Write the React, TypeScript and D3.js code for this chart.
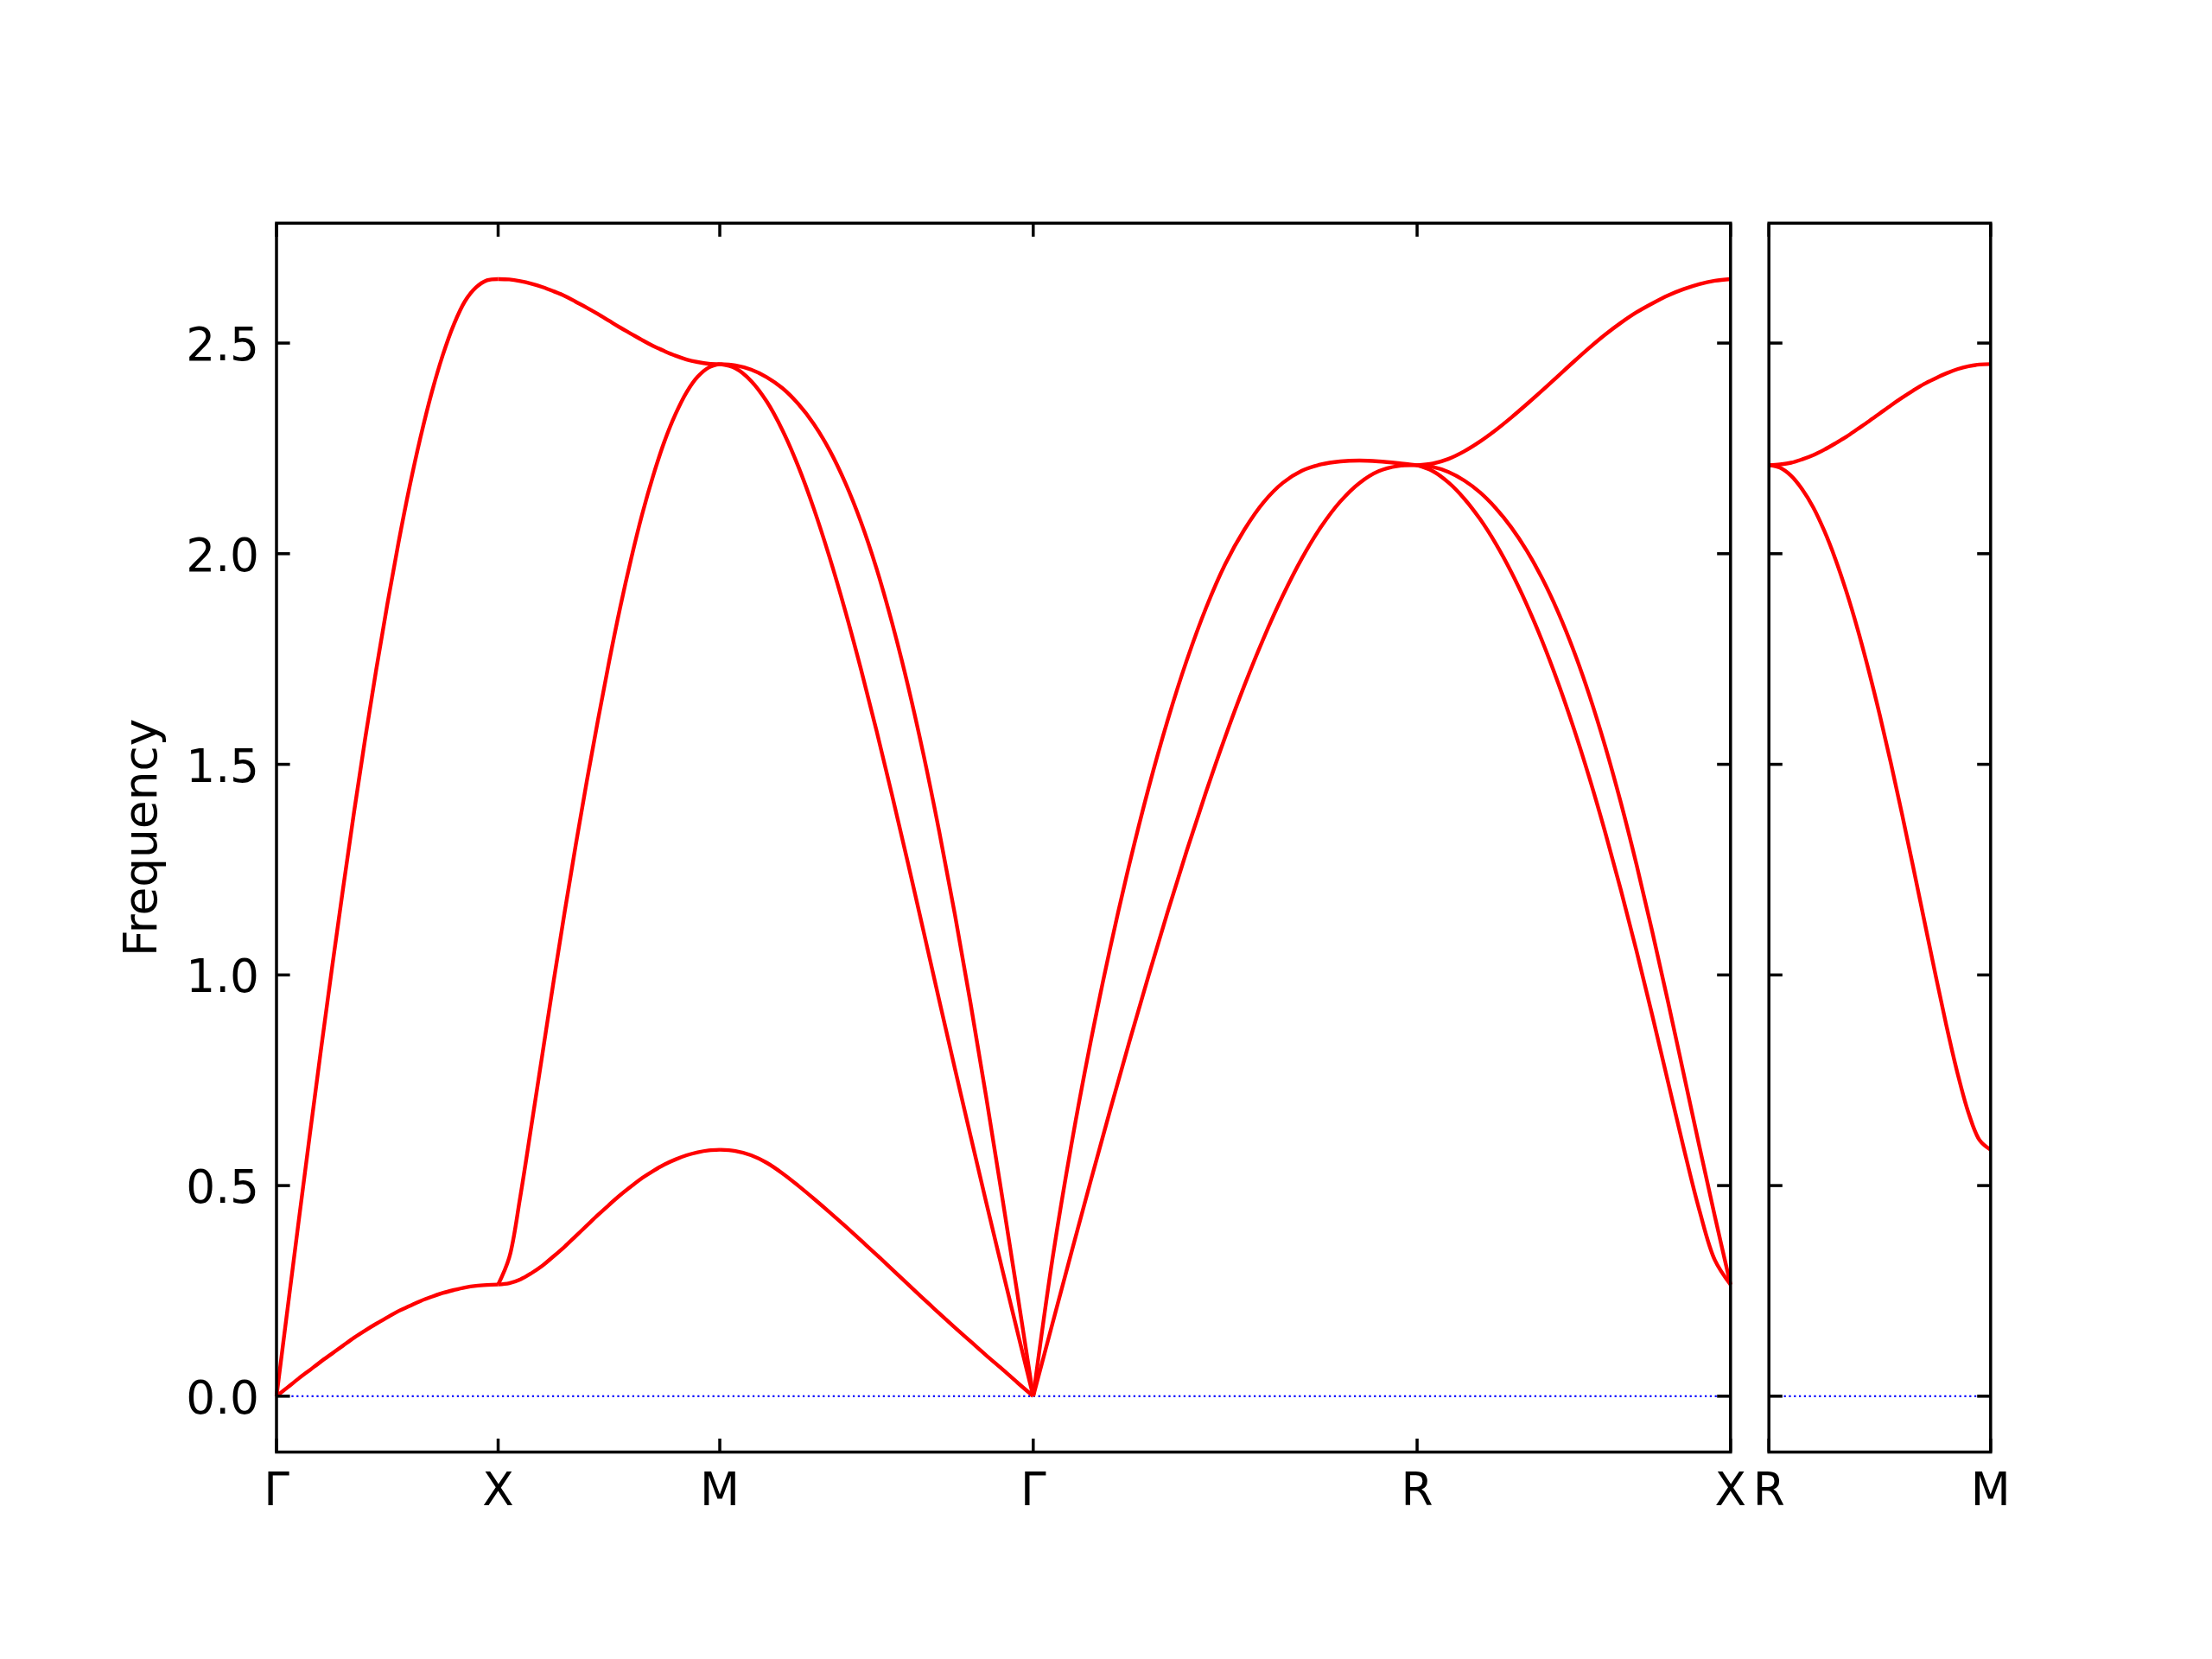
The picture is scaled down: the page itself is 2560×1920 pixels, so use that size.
import React from "react";
import * as d3 from "d3";

// ---- data ----
const PATH_LABELS = ["Γ", "X", "M", "Γ", "R", "X"];
const SEGMENT_LENGTHS = [0.5, 0.5, 0.7071, 0.866, 0.7071];
const PANEL2_LABELS = ["R", "M"];
const PANEL2_LENGTHS = [0.5];
const FRACTIONS = [0, 0.05, 0.1, 0.15, 0.2, 0.25, 0.3, 0.35, 0.4, 0.45, 0.5, 0.55, 0.6, 0.65, 0.7, 0.75, 0.8, 0.85, 0.9, 0.95, 1];
const Y_TICKS = [0, 0.5, 1.0, 1.5, 2.0, 2.5];

// Γ → X
const gX_LA = [0, 0.208, 0.415, 0.619, 0.82, 1.015, 1.204, 1.387, 1.561, 1.725, 1.88, 2.025, 2.158, 2.277, 2.382, 2.471, 2.544, 2.599, 2.632, 2.649, 2.652];
const gX_TA = [0, 0.021, 0.042, 0.062, 0.082, 0.101, 0.12, 0.139, 0.156, 0.172, 0.187, 0.202, 0.214, 0.226, 0.236, 0.245, 0.252, 0.258, 0.262, 0.264, 0.265];
// X → M
const xM_top = [2.652, 2.651, 2.647, 2.641, 2.633, 2.623, 2.612, 2.598, 2.584, 2.569, 2.553, 2.537, 2.522, 2.507, 2.493, 2.481, 2.47, 2.461, 2.455, 2.451, 2.45];
const xM_mid = [0.265, 0.329, 0.474, 0.642, 0.813, 0.984, 1.149, 1.308, 1.46, 1.604, 1.742, 1.871, 1.988, 2.094, 2.186, 2.266, 2.331, 2.383, 2.42, 2.442, 2.45];
const xM_low = [0.265, 0.268, 0.277, 0.292, 0.31, 0.332, 0.355, 0.38, 0.405, 0.43, 0.454, 0.477, 0.498, 0.518, 0.535, 0.55, 0.562, 0.572, 0.579, 0.5835, 0.585];
// M → Γ
const mG_outer = [2.45, 2.447, 2.437, 2.419, 2.393, 2.356, 2.308, 2.246, 2.169, 2.076, 1.965, 1.835, 1.688, 1.523, 1.341, 1.144, 0.933, 0.71, 0.478, 0.241, 0];
const mG_inner = [2.45, 2.44, 2.41, 2.361, 2.293, 2.208, 2.107, 1.992, 1.865, 1.727, 1.58, 1.426, 1.267, 1.104, 0.94, 0.778, 0.618, 0.46, 0.305, 0.152, 0];
const mG_low = [0.585, 0.582, 0.572, 0.554, 0.529, 0.5, 0.469, 0.437, 0.404, 0.37, 0.336, 0.301, 0.266, 0.231, 0.197, 0.163, 0.13, 0.097, 0.065, 0.032, 0];
// Γ → R
const gR_upper = [0, 0.325, 0.6, 0.843, 1.062, 1.261, 1.442, 1.604, 1.747, 1.871, 1.975, 2.057, 2.122, 2.168, 2.197, 2.212, 2.219, 2.221, 2.219, 2.215, 2.21];
const gR_lower = [0, 0.172, 0.343, 0.512, 0.678, 0.84, 0.997, 1.149, 1.295, 1.434, 1.565, 1.687, 1.799, 1.9, 1.989, 2.064, 2.124, 2.168, 2.196, 2.208, 2.21];
// R → X
const rX_top = [2.21, 2.214, 2.225, 2.243, 2.266, 2.293, 2.323, 2.355, 2.388, 2.422, 2.456, 2.489, 2.52, 2.548, 2.573, 2.594, 2.613, 2.628, 2.64, 2.648, 2.652];
const rX_mid = [2.21, 2.206, 2.194, 2.174, 2.146, 2.109, 2.063, 2.007, 1.94, 1.861, 1.769, 1.663, 1.543, 1.409, 1.262, 1.104, 0.938, 0.767, 0.595, 0.427, 0.265];
const rX_low = [2.21, 2.196, 2.169, 2.131, 2.083, 2.025, 1.957, 1.879, 1.791, 1.693, 1.585, 1.467, 1.339, 1.202, 1.057, 0.905, 0.748, 0.591, 0.443, 0.323, 0.265];
// R → M (second panel)
const rM_upper = [2.21, 2.212, 2.216, 2.224, 2.234, 2.247, 2.262, 2.278, 2.296, 2.314, 2.333, 2.352, 2.37, 2.387, 2.403, 2.416, 2.428, 2.438, 2.445, 2.449, 2.45];
const rM_lower = [2.21, 2.204, 2.185, 2.153, 2.11, 2.054, 1.987, 1.909, 1.821, 1.723, 1.617, 1.503, 1.383, 1.258, 1.131, 1.004, 0.881, 0.768, 0.673, 0.608, 0.585];

const PANEL1_BANDS = [
  [gX_LA, gX_TA],
  [xM_top, xM_mid, xM_low],
  [mG_outer, mG_inner, mG_low],
  [gR_upper, gR_lower],
  [rX_top, rX_mid, rX_low],
];
const PANEL2_BANDS = [[rM_upper, rM_lower]];

// ---- layout ----
const W = 2560;
const H = 1920;
const TOP = 258.3;
const BOTTOM = 1680.5;
const P1 = { left: 320, right: 2002.8 };
const P2 = { left: 2047.2, right: 2303.8 };
const FONT = "DejaVu Sans, sans-serif";
const FS = 53.3;
const TICK = 15.6;
const AXW = 3.5;

const allVals = [...PANEL1_BANDS.flat(2), ...PANEL2_BANDS.flat(2)];
const [vmin, vmax] = d3.extent(allVals) as [number, number];
const pad = (vmax - vmin) * 0.05;
const y = d3.scaleLinear().domain([vmin - pad, vmax + pad]).range([BOTTOM, TOP]);

function cumul(lengths: number[]) {
  const out = [0];
  lengths.forEach((l) => out.push(out[out.length - 1] + l));
  return out;
}

function Panel({ lengths, bands, labels, range, showY }: any) {
  const starts = cumul(lengths);
  const x = d3.scaleLinear().domain([0, starts[starts.length - 1]]).range(range);
  const line = d3
    .line<[number, number]>()
    .x((d) => x(d[0]))
    .y((d) => y(d[1]))
    .curve(d3.curveCatmullRom.alpha(0.5));
  const paths: string[] = [];
  bands.forEach((seg: number[][], i: number) => {
    seg.forEach((vals) => {
      const pts = vals.map((v, j) => [starts[i] + FRACTIONS[j] * lengths[i], v] as [number, number]);
      paths.push(line(pts) as string);
    });
  });
  const [x0, x1] = range;
  return (
    <g>
      <line x1={x0} x2={x1} y1={y(0)} y2={y(0)} stroke="#0000ff" strokeWidth={2.2} strokeDasharray="2.2 3.6" />
      {paths.map((d, i) => (
        <path key={i} d={d} fill="none" stroke="#ff0000" strokeWidth={4.4} strokeLinejoin="round" />
      ))}
      {Y_TICKS.map((t) => (
        <g key={t}>
          <line x1={x0} x2={x0 + TICK} y1={y(t)} y2={y(t)} stroke="#000" strokeWidth={AXW} />
          <line x1={x1} x2={x1 - TICK} y1={y(t)} y2={y(t)} stroke="#000" strokeWidth={AXW} />
          {showY && (
            <text x={x0 - 20} y={y(t) + 20} textAnchor="end" fontFamily={FONT} fontSize={FS} fill="#000">
              {d3.format(".1f")(t)}
            </text>
          )}
        </g>
      ))}
      {starts.map((s, i) => (
        <g key={i}>
          <line x1={x(s)} x2={x(s)} y1={BOTTOM} y2={BOTTOM - TICK} stroke="#000" strokeWidth={AXW} />
          <line x1={x(s)} x2={x(s)} y1={TOP} y2={TOP + TICK} stroke="#000" strokeWidth={AXW} />
          <text x={x(s)} y={BOTTOM + 61} textAnchor="middle" fontFamily={FONT} fontSize={FS} fill="#000">
            {labels[i]}
          </text>
        </g>
      ))}
      <rect x={x0} y={TOP} width={x1 - x0} height={BOTTOM - TOP} fill="none" stroke="#000" strokeWidth={AXW} />
    </g>
  );
}

export default function App() {
  return (
    <svg
      width={W}
      height={H}
      viewBox={`0 0 ${W} ${H}`}
      style={{ position: "absolute", left: 0, top: 0, background: "#fff" }}
    >
      <rect x={0} y={0} width={W} height={H} fill="#fff" />
      <Panel lengths={SEGMENT_LENGTHS} bands={PANEL1_BANDS} labels={PATH_LABELS} range={[P1.left, P1.right]} showY />
      <Panel lengths={PANEL2_LENGTHS} bands={PANEL2_BANDS} labels={PANEL2_LABELS} range={[P2.left, P2.right]} showY={false} />
      <text
        transform={`translate(180.6, ${(TOP + BOTTOM) / 2}) rotate(-90)`}
        textAnchor="middle"
        fontFamily={FONT}
        fontSize={FS}
        fill="#000"
      >
        Frequency
      </text>
    </svg>
  );
}
